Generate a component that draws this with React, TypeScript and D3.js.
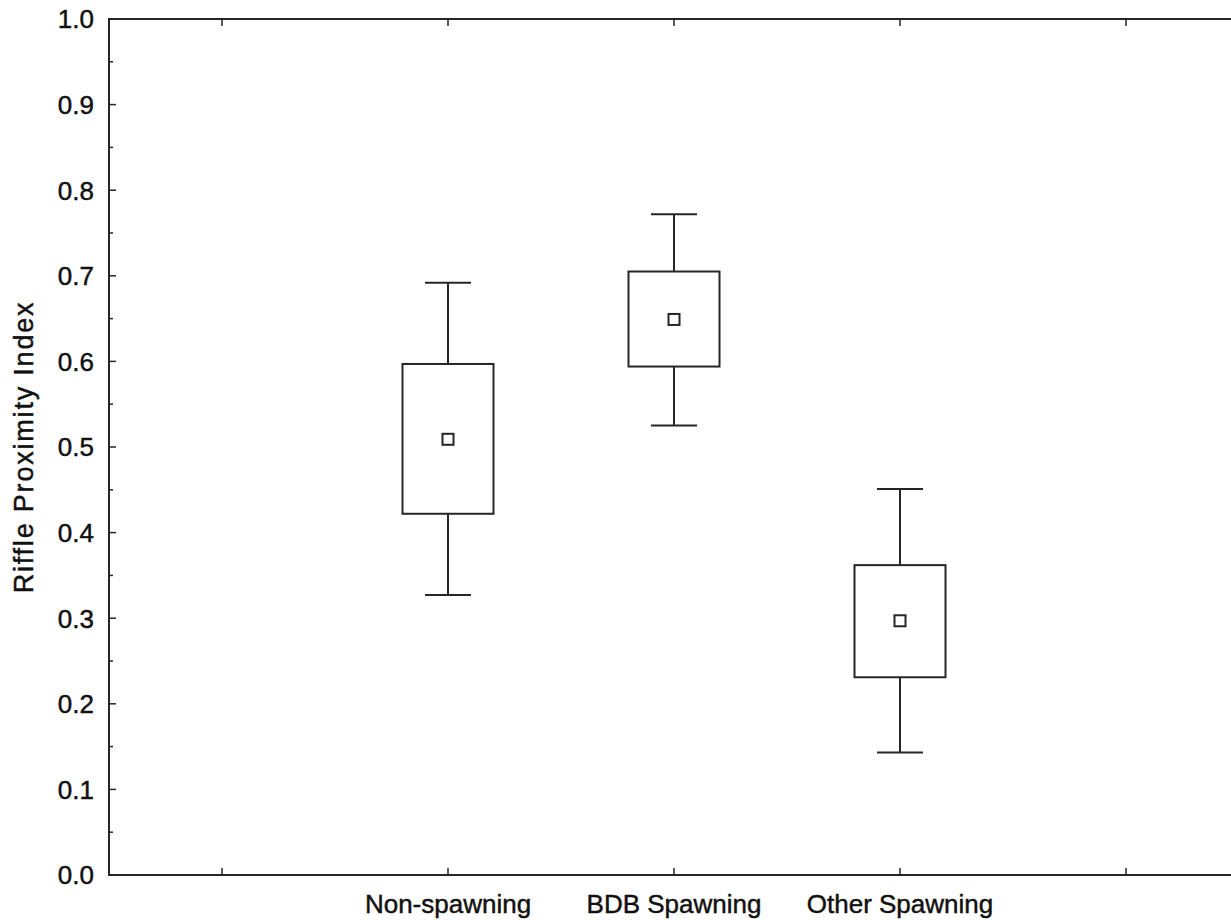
import * as d3 from 'd3';
import { useEffect, useRef } from 'react';

// x slots: outer two are empty (ticks only)
const slots = ['s0', 'Non-spawning', 'BDB Spawning', 'Other Spawning', 's4'];
const groups = ['Non-spawning', 'BDB Spawning', 'Other Spawning'];
const means = [0.509, 0.649, 0.297];
const boxLow = [0.422, 0.594, 0.231];
const boxHigh = [0.597, 0.705, 0.362];
const whiskerLow = [0.327, 0.525, 0.143];
const whiskerHigh = [0.692, 0.772, 0.451];
const yTicks = [0, 0.1, 0.2, 0.3, 0.4, 0.5, 0.6, 0.7, 0.8, 0.9, 1.0];

const W = 1231;
const H = 920;

function BoxChart() {
    const ref = useRef<SVGSVGElement>(null);

    useEffect(() => {
        document.body.style.margin = '0';
        drawChart();
    }, []);

    const drawChart = () => {
        const margin = { top: 19, right: -8, bottom: 45, left: 109 };
        const svg = d3.select(ref.current);
        svg.selectAll('*').remove();

        const x = d3.scaleBand().domain(slots).range([margin.left, W - margin.right]).padding(0);
        const y = d3.scaleLinear().domain([0, 1]).range([H - margin.bottom, margin.top]);
        const cx = (g: string) => (x(g) as number) + x.bandwidth() / 2;
        const stroke = '#262626';
        const font = '"Liberation Sans", Arial, Helvetica, sans-serif';
        const textStyle = (sel: any, size: number) =>
            sel.attr('font-family', font)
                .attr('font-size', size)
                .attr('fill', '#111')
                .attr('stroke', '#111')
                .attr('stroke-width', 0.45);

        const g = svg.append('g');

        // frame
        g.append('rect')
            .attr('x', margin.left)
            .attr('y', y(1))
            .attr('width', W - margin.right - margin.left)
            .attr('height', y(0) - y(1))
            .attr('fill', 'none')
            .attr('stroke', stroke)
            .attr('stroke-width', 2);

        // y axis ticks (inward) + labels
        const minor = d3.range(0.05, 1, 0.1);
        g.selectAll('.ymaj')
            .data(yTicks)
            .join('line')
            .attr('x1', margin.left)
            .attr('x2', margin.left + 7)
            .attr('y1', d => y(d))
            .attr('y2', d => y(d))
            .attr('stroke', stroke)
            .attr('stroke-width', 1.5);
        g.selectAll('.ymin')
            .data(minor)
            .join('line')
            .attr('x1', margin.left)
            .attr('x2', margin.left + 4)
            .attr('y1', d => y(d))
            .attr('y2', d => y(d))
            .attr('stroke', stroke)
            .attr('stroke-width', 1.5);
        g.selectAll('.ylab')
            .data(yTicks)
            .join('text')
            .attr('x', margin.left - 15)
            .attr('y', d => y(d))
            .attr('dy', '0.36em')
            .attr('text-anchor', 'end')
            .call(textStyle, 26)
            .text(d => d3.format('.1f')(d));

        // x ticks, bottom and top, inward
        const ticks = slots.map(cx);
        g.selectAll('.xb')
            .data(ticks)
            .join('line')
            .attr('x1', d => d)
            .attr('x2', d => d)
            .attr('y1', y(0))
            .attr('y2', y(0) - 7)
            .attr('stroke', stroke)
            .attr('stroke-width', 1.5);
        g.selectAll('.xt')
            .data(ticks)
            .join('line')
            .attr('x1', d => d)
            .attr('x2', d => d)
            .attr('y1', y(1))
            .attr('y2', y(1) + 7)
            .attr('stroke', stroke)
            .attr('stroke-width', 1.5);
        g.selectAll('.xlab')
            .data(groups)
            .join('text')
            .attr('x', d => cx(d))
            .attr('y', y(0) + 38)
            .attr('text-anchor', 'middle')
            .call(textStyle, 26)
            .text(d => d);

        // y label
        g.append('text')
            .attr('transform', `translate(33, ${(y(0) + y(1)) / 2}) rotate(-90)`)
            .attr('text-anchor', 'middle')
            .attr('letter-spacing', 1.8)
            .call(textStyle, 27)
            .text('Riffle Proximity Index');

        // boxes
        const boxW = 91;
        const capW = 46;
        const mk = 11;
        groups.forEach((grp, i) => {
            const c = cx(grp);
            const bg = g.append('g').attr('stroke', stroke).attr('stroke-width', 2).attr('fill', 'none');
            bg.append('line').attr('x1', c).attr('x2', c).attr('y1', y(boxHigh[i])).attr('y2', y(whiskerHigh[i]));
            bg.append('line').attr('x1', c).attr('x2', c).attr('y1', y(boxLow[i])).attr('y2', y(whiskerLow[i]));
            bg.append('line').attr('x1', c - capW / 2).attr('x2', c + capW / 2).attr('y1', y(whiskerHigh[i])).attr('y2', y(whiskerHigh[i]));
            bg.append('line').attr('x1', c - capW / 2).attr('x2', c + capW / 2).attr('y1', y(whiskerLow[i])).attr('y2', y(whiskerLow[i]));
            bg.append('rect')
                .attr('x', c - boxW / 2)
                .attr('y', y(boxHigh[i]))
                .attr('width', boxW)
                .attr('height', y(boxLow[i]) - y(boxHigh[i]))
                .attr('fill', 'white');
            bg.append('rect')
                .attr('x', c - mk / 2)
                .attr('y', y(means[i]) - mk / 2)
                .attr('width', mk)
                .attr('height', mk)
                .attr('fill', 'white');
        });
    };

    return <svg ref={ref} width={W} height={H} style={{ display: 'block', background: 'white' }} />;
}

export default function App() {
    return <BoxChart />;
}
